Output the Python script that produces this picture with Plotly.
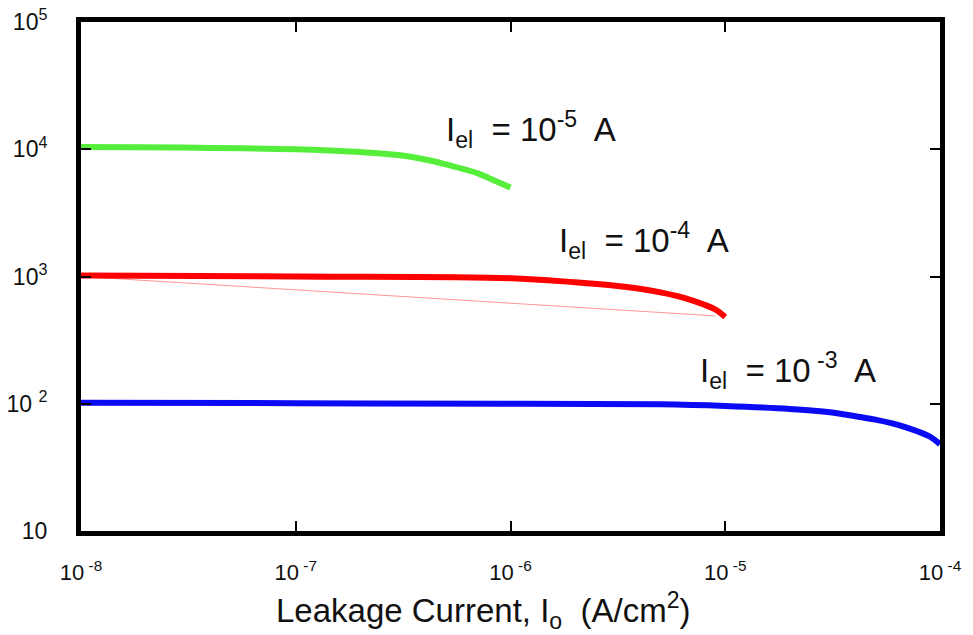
import plotly.graph_objects as go
import math

# Leakage current I_o (A/cm^2) vs. response for three electrode currents
green_x = [1e-8, 3e-8, 1e-7, 2e-7, 3e-7, 4e-7, 5e-7, 6e-7, 7e-7, 8e-7, 9e-7, 1e-6]
green_y = [1.04e4, 1.03e4, 1.0e4, 9.5e3, 9.0e3, 8.3e3, 7.6e3, 7.0e3, 6.5e3, 5.9e3, 5.4e3, 5.0e3]

red_x = [1e-8, 1e-7, 1e-6, 2e-6, 3e-6, 4e-6, 5e-6, 6e-6, 7e-6, 8e-6, 9e-6, 1e-5]
red_y = [1020, 1000, 970, 900, 850, 800, 750, 700, 650, 600, 550, 480]

red_thin_x = [1e-8, 9e-6]
red_thin_y = [1000, 490]

blue_x = [1e-8, 1e-7, 1e-6, 5e-6, 1e-5, 2e-5, 3e-5, 4e-5, 5e-5, 6e-5, 7e-5, 8e-5, 9e-5, 1e-4]
blue_y = [102, 101, 100, 99, 96, 91, 86, 80, 75, 70, 65, 60, 55, 48]

x_tickvals = [1e-8, 1e-7, 1e-6, 1e-5, 1e-4]
x_ticktext = ["10<sup> -8</sup>", "10<sup> -7</sup>", "10<sup> -6</sup>", "10<sup> -5</sup>", "10<sup> -4</sup>"]
y_tickvals = [10, 1e2, 1e3, 1e4, 1e5]
y_ticktext = ["10", "10 <sup>2</sup>", "10<sup>3</sup>", "10<sup>4</sup>", "10<sup>5</sup>"]

labels = ["I<sub>el</sub>  = 10<sup>-5</sup>  A",
          "I<sub>el</sub>  = 10<sup>-4</sup>  A",
          "I<sub>el</sub>  = 10<sup> -3</sup>  A"]
label_x = [4.9e-7, 1.64e-6, 7.5e-6]
label_y = [1.43e4, 1.91e3, 183]

x_title = "Leakage Current, I<sub>o</sub>  (A/cm<sup>2</sup>)"

FONT = "Arial, Liberation Sans, sans-serif"

fig = go.Figure()
fig.add_trace(go.Scatter(x=green_x, y=green_y, mode="lines", line_shape="spline",
                         line=dict(color="#55ee3a", width=6), showlegend=False))
fig.add_trace(go.Scatter(x=red_thin_x, y=red_thin_y, mode="lines",
                         line=dict(color="rgba(255,80,80,0.6)", width=1), showlegend=False))
fig.add_trace(go.Scatter(x=red_x, y=red_y, mode="lines", line_shape="spline",
                         line=dict(color="#ff0000", width=6), showlegend=False))
fig.add_trace(go.Scatter(x=blue_x, y=blue_y, mode="lines", line_shape="spline",
                         line=dict(color="#0a0af5", width=6), showlegend=False))

for txt, lx, ly in zip(labels, label_x, label_y):
    fig.add_annotation(x=math.log10(lx), y=math.log10(ly), xref="x", yref="y",
                       text=txt, showarrow=False, xanchor="left", yanchor="middle",
                       font=dict(family=FONT, size=33, color="#111"))

# x-axis title, placed a little left of the plot centre
fig.add_annotation(x=0.468, y=-0.156, xref="paper", yref="paper",
                   text=x_title, showarrow=False, xanchor="center", yanchor="middle",
                   font=dict(family=FONT, size=33, color="#111"))

fig.update_layout(
    width=973, height=635,
    margin=dict(l=81, r=33, t=22, b=104),
    plot_bgcolor="white", paper_bgcolor="white",
    font=dict(family=FONT, color="#111"),
    xaxis=dict(type="log", range=[-8, -4], tickvals=x_tickvals, ticktext=x_ticktext,
               ticks="inside", ticklen=10, tickwidth=2, tickcolor="black",
               showline=True, linewidth=5, linecolor="black", mirror="ticks",
               showgrid=False, zeroline=False, tickfont=dict(size=22),
               ticklabelstandoff=18, automargin=False),
    yaxis=dict(type="log", range=[1, 5], tickvals=y_tickvals, ticktext=y_ticktext,
               ticks="inside", ticklen=10, tickwidth=2, tickcolor="black",
               showline=True, linewidth=5, linecolor="black", mirror="ticks",
               showgrid=False, zeroline=False, tickfont=dict(size=23),
               ticklabelstandoff=24, automargin=False),
)

fig.write_html("out.html")
